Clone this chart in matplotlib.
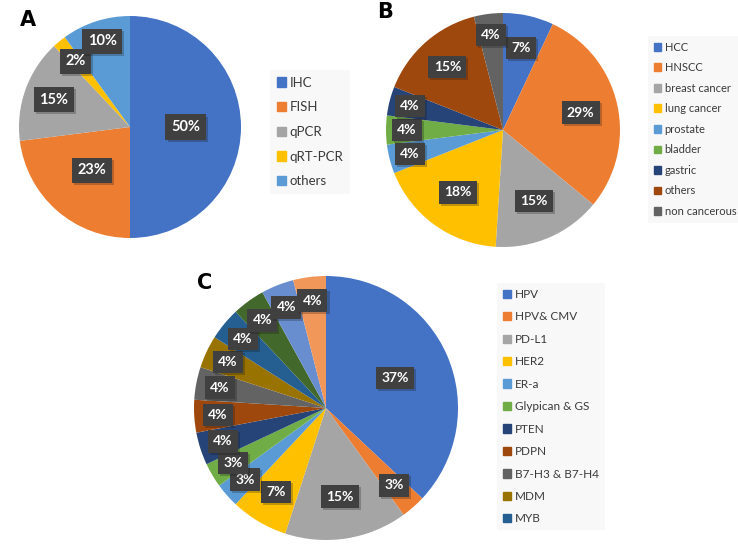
import matplotlib.pyplot as plt
from matplotlib.patches import Patch
import matplotlib.patheffects as pe
import numpy as np

plt.rcParams["font.family"] = ["Lato", "DejaVu Sans"]

W, H = 738, 551

# data
a_labels = ["IHC", "FISH", "qPCR", "qRT-PCR", "others"]
a_values = [50, 23, 15, 2, 10]

b_labels = ["HCC", "HNSCC", "breast cancer", "lung cancer", "prostate", "bladder",
            "gastric", "others", "non cancerous"]
b_values = [7, 29, 15, 18, 4, 4, 4, 15, 4]

c_labels = ["HPV", "HPV& CMV", "PD-L1", "HER2", "ER-a", "Glypican & GS", "PTEN",
            "PDPN", "B7-H3 & B7-H4", "MDM", "MYB"]
c_values = [37, 3, 15, 7, 3, 3, 4, 4, 4, 4, 4, 4, 4, 4]

office = ["#4472C4", "#ED7D31", "#A5A5A5", "#FFC000", "#5B9BD5", "#70AD47",
          "#264478", "#9E480E", "#636363", "#997300", "#255E91", "#43682B",
          "#698ED0", "#F1975A"]

fig = plt.figure(figsize=(W / 100, H / 100), dpi=100)


def px_axes(cx, cy, r):
    return fig.add_axes([(cx - r) / W, 1 - (cy + r) / H, 2 * r / W, 2 * r / H])


def draw_pie(ax, values, dist, fs):
    wedges, _ = ax.pie(values, colors=office[:len(values)], startangle=90,
                       counterclock=False, wedgeprops=dict(linewidth=0))
    ax.set_xlim(-1, 1)
    ax.set_ylim(-1, 1)
    ax.set_aspect("equal")
    for i, (w, v) in enumerate(zip(wedges, values)):
        ang = np.deg2rad((w.theta1 + w.theta2) / 2)
        d = dist[i]
        t = ax.text(d * np.cos(ang), d * np.sin(ang), f"{v}%", ha="center",
                    va="center", color="white", fontsize=fs, fontweight="bold",
                    clip_on=False,
                    bbox=dict(boxstyle="square,pad=0.38", fc="#404040", ec="none"))
        t.get_bbox_patch().set_path_effects(
            [pe.SimplePatchShadow(offset=(1.5, -1.5), alpha=0.25), pe.Normal()])
    return wedges


def add_legend(labels, n, x, y, fs, spacing):
    handles = [Patch(color=office[i]) for i in range(n)]
    leg = fig.legend(handles, labels, loc="upper left",
                     bbox_to_anchor=(x / W, 1 - y / H), frameon=True,
                     fontsize=fs, handlelength=0.7, handleheight=0.7,
                     handletextpad=0.3, labelspacing=spacing, borderpad=0.5,
                     borderaxespad=0, fancybox=False)
    leg.get_frame().set_facecolor("#F7F7F7")
    leg.get_frame().set_edgecolor("none")
    for t in leg.get_texts():
        t.set_color("#3a3a3a")


# A
axA = px_axes(130, 127, 111)
draw_pie(axA, a_values, [0.5, 0.52, 0.73, 0.77, 0.81], 10.5)
add_legend(a_labels, 5, 270, 70, 9.5, 0.96)

# B
axB = px_axes(503, 130, 117)
draw_pie(axB, b_values, [0.72, 0.68, 0.66, 0.66, 0.82, 0.82, 0.82, 0.72, 0.82], 10)
add_legend(b_labels, 9, 648, 36, 8, 0.86)

# C
axC = px_axes(326, 408, 132)
draw_pie(axC, c_values, [0.57, 0.78, 0.68, 0.74] + [0.82] * 10, 10)
add_legend(c_labels, 11, 497, 283, 8.5, 0.97)

for letter, x, y in [("A", 20, 20), ("B", 377, 12), ("C", 197, 283)]:
    fig.text(x / W, 1 - y / H, letter, fontsize=15, fontweight="bold",
             family="DejaVu Sans", ha="left", va="center")

fig.savefig("out.png", dpi=100)
